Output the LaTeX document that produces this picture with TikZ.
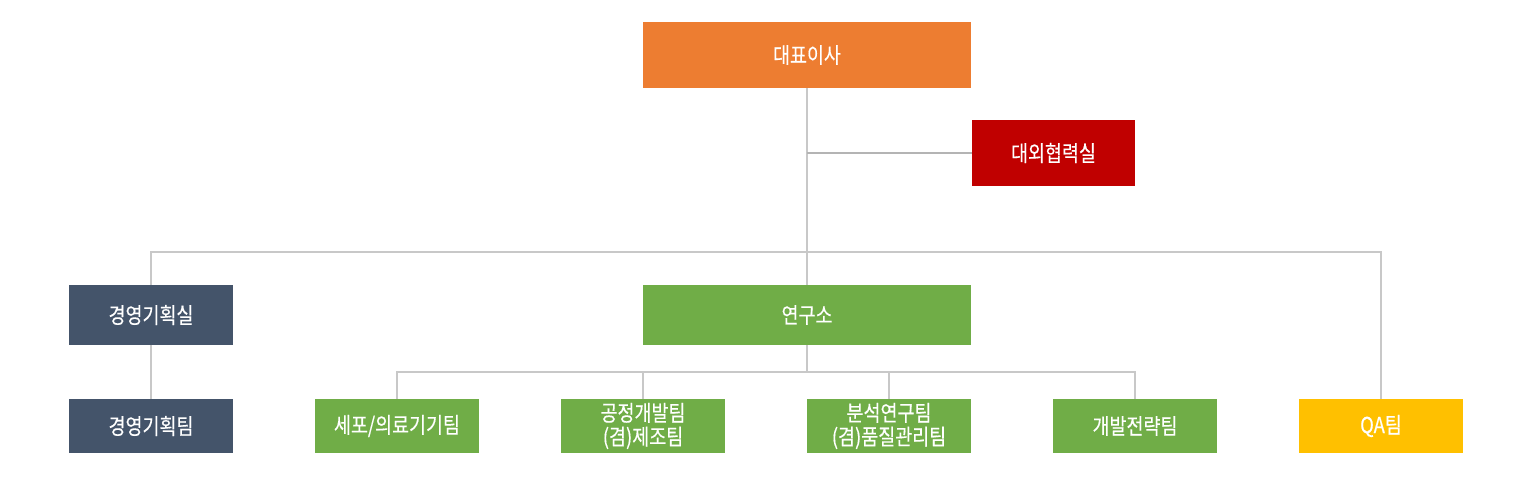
\documentclass[tikz,border=0pt]{standalone}
\usepackage{fontspec}
\newfontfamily\krfont[FakeStretch=0.84,FakeBold=0.4]{Noto Sans CJK KR}
\definecolor{ceoorange}{HTML}{ED7D31}
\definecolor{extred}{HTML}{C00000}
\definecolor{mgmtblue}{HTML}{44546A}
\definecolor{labgreen}{HTML}{70AD47}
\definecolor{qayellow}{HTML}{FFC000}
\definecolor{linegray}{HTML}{C8C8C8}
\definecolor{extgray}{HTML}{B4B4B4}
\begin{document}
\begin{tikzpicture}[x=0.02cm,y=-0.02cm,
    box/.style={rectangle, inner sep=0pt, text=white, align=center,
        font=\krfont\fontsize{12.5}{13.5}\selectfont},
    bigbox/.style={box, minimum width=6.56cm, minimum height=1.32cm},
    unitbox/.style={box, minimum width=3.28cm, minimum height=1.2cm},
    teambox/.style={box, minimum width=3.28cm, minimum height=1.08cm},
    link/.style={draw=linegray, line width=0.75pt}]
    \useasboundingbox (0,0) rectangle (1535,501);
    % top
    \node[bigbox, fill=ceoorange] (ceo) at (807,55) {대표이사};
    \node[unitbox, fill=extred, minimum height=1.32cm, minimum width=3.26cm] (ext) at (1053.5,153) {대외협력실};
    % second row
    \node[unitbox, fill=mgmtblue] (mgmt) at (151,315) {경영기획실};
    \node[bigbox, fill=labgreen, minimum height=1.2cm] (lab) at (807,315) {연구소};
    % teams
    \node[teambox, fill=mgmtblue] (mgmtteam) at (151,426) {경영기획팀};
    \node[teambox, fill=labgreen] (cell) at (397,426) {세포/의료기기팀};
    \node[teambox, fill=labgreen] (proc) at (643,426) {공정개발팀\\(겸)제조팀};
    \node[teambox, fill=labgreen] (anal) at (889,426) {분석연구팀\\(겸)품질관리팀};
    \node[teambox, fill=labgreen] (strat) at (1135,426) {개발전략팀};
    \node[teambox, fill=qayellow] (qa) at (1381,426) {QA팀};
    % buses
    \coordinate (bus) at (807,252);
    \coordinate (labbus) at (807,372);
    % connectors
    \draw[link] (ceo.south) -- (lab.north);
    \draw[link, draw=extgray, line width=1pt] (ext.west) -- (ext.west -| ceo.south);
    \draw[link] (mgmt.north) -- (mgmt.north |- bus) -- (qa.north |- bus) -- (qa.north);
    \draw[link] (mgmt.south) -- (mgmtteam.north);
    \draw[link] (lab.south) -- (labbus);
    \draw[link] (cell.north) -- (cell.north |- labbus) -- (strat.north |- labbus) -- (strat.north);
    \draw[link] (proc.north) -- (proc.north |- labbus);
    \draw[link] (anal.north) -- (anal.north |- labbus);
\end{tikzpicture}
\end{document}
